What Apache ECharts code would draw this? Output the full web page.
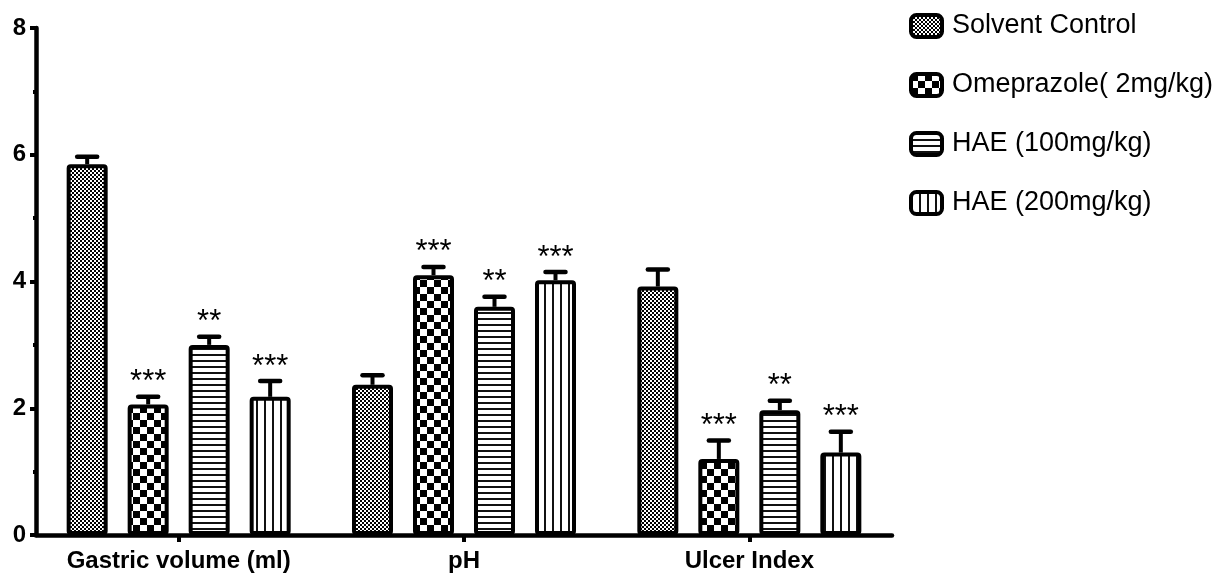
<!DOCTYPE html>
<html>
<head>
<meta charset="utf-8">
<script src="https://cdn.jsdelivr.net/npm/echarts@6/dist/echarts.min.js"></script>
<style>html,body{margin:0;padding:0;background:#fff;}#chart{width:1224px;height:576px;}</style>
</head>
<body>
<div id="chart"></div>
<script>
// ---- data ----
const categories = ['Gastric volume (ml)', 'pH', 'Ulcer Index'];
const seriesNames = ['Solvent Control', 'Omeprazole( 2mg/kg)', 'HAE (100mg/kg)', 'HAE (200mg/kg)'];
const solventMean = [5.85, 2.37, 3.92];
const solventErr  = [0.12, 0.15, 0.27];
const omeMean     = [2.06, 4.10, 1.20];
const omeErr      = [0.12, 0.13, 0.29];
const hae100Mean  = [3.00, 3.60, 1.97];
const hae100Err   = [0.13, 0.16, 0.15];
const hae200Mean  = [2.18, 4.02, 1.30];
const hae200Err   = [0.25, 0.13, 0.33];
const solventStars = ['', '', ''];
const omeStars     = ['***', '***', '***'];
const hae100Stars  = ['**', '**', '**'];
const hae200Stars  = ['***', '***', '***'];
const yTicks = [0, 2, 4, 6, 8];

const means = [solventMean, omeMean, hae100Mean, hae200Mean];
const errs = [solventErr, omeErr, hae100Err, hae200Err];
const stars = [solventStars, omeStars, hae100Stars, hae200Stars];

// ---- patterns ----
function makePattern(w, h, draw) {
  const c = document.createElement('canvas');
  c.width = w; c.height = h;
  const ctx = c.getContext('2d');
  ctx.fillStyle = '#fff'; ctx.fillRect(0, 0, w, h);
  ctx.fillStyle = '#000';
  draw(ctx, w, h);
  return { image: c, repeat: 'repeat' };
}
const patterns = [
  makePattern(4, 4, (ctx) => { ctx.fillRect(0, 0, 2, 2); ctx.fillRect(2, 2, 2, 2); }),
  makePattern(14, 14, (ctx) => { ctx.fillRect(0, 0, 7, 7); ctx.fillRect(7, 7, 7, 7); }),
  makePattern(6, 6, (ctx) => { ctx.fillStyle = '#111'; ctx.fillRect(0, 0, 6, 2); }),
  makePattern(8, 8, (ctx) => { ctx.fillStyle = '#111'; ctx.fillRect(0, 0, 2, 8); })
];

const FONT = '"Liberation Sans", Arial, sans-serif';
const BAR_W = 41;
const BAR_STEP = 61;

const series = [];
seriesNames.forEach((name, i) => {
  series.push({
    name: name,
    type: 'bar',
    barWidth: BAR_W,
    barGap: ((BAR_STEP - BAR_W) / BAR_W * 100) + '%',
    data: means[i],
    itemStyle: { color: patterns[i], borderColor: '#000', borderWidth: 4, borderRadius: 2 },
    emphasis: { disabled: true },
    z: 2
  });
});
seriesNames.forEach((name, i) => {
  const d = means[i].map((v, k) => [k, v, errs[i][k], stars[i][k]]);
  series.push({
    type: 'custom',
    name: name + ' err',
    z: 3,
    silent: true,
    data: d,
    renderItem: function (params, api) {
      const k = api.value(0);
      const v = api.value(1);
      const e = api.value(2);
      const s = d[params.dataIndex][3];
      const base = api.coord([k, v]);
      const top = api.coord([k, v + e]);
      const x = base[0] + (i - 1.5) * BAR_STEP;
      const children = [
        { type: 'line', shape: { x1: x, y1: base[1], x2: x, y2: top[1] },
          style: { stroke: '#000', lineWidth: 4 } },
        { type: 'line', shape: { x1: x - 10, y1: top[1], x2: x + 10, y2: top[1] },
          style: { stroke: '#000', lineWidth: 4.5, lineCap: 'round' } }
      ];
      if (s) {
        children.push({ type: 'text', x: x, y: top[1] - 14,
          style: { text: s, fill: '#000', font: '31px ' + FONT, align: 'center', verticalAlign: 'middle' } });
      }
      return { type: 'group', children: children };
    }
  });
});

const chart = echarts.init(document.getElementById('chart'), null, { renderer: 'canvas' });
chart.setOption({
  animation: false,
  backgroundColor: '#fff',
  grid: { left: 36, right: 332, top: 28, bottom: 41, containLabel: false },
  legend: {
    data: seriesNames,
    orient: 'vertical',
    left: 904,
    top: 6,
    itemWidth: 31,
    itemHeight: 22,
    itemGap: 29,
    selectedMode: false,
    itemStyle: { borderColor: '#000', borderWidth: 4 },
    textStyle: { fontFamily: FONT, fontSize: 27, color: '#000', lineHeight: 30, padding: [0, 0, 0, 5] }
  },
  xAxis: {
    type: 'category',
    data: categories,
    boundaryGap: true,
    axisLine: { lineStyle: { color: '#000', width: 4.5 } },
    axisTick: { show: true, alignWithLabel: true, length: 7, lineStyle: { color: '#000', width: 4 } },
    axisLabel: { interval: 0, fontFamily: FONT, fontWeight: 'bold', fontSize: 24, color: '#000', margin: 14 },
    splitLine: { show: false }
  },
  yAxis: {
    type: 'value',
    min: yTicks[0],
    max: yTicks[yTicks.length - 1],
    interval: 2,
    axisLine: { show: true, lineStyle: { color: '#000', width: 4.5 } },
    axisTick: { show: true, length: 6, lineStyle: { color: '#000', width: 4 } },
    minorTick: { show: true, splitNumber: 2, length: 3, lineStyle: { color: '#000', width: 4 } },
    axisLabel: { fontFamily: FONT, fontWeight: 'bold', fontSize: 24, color: '#000', margin: 10 },
    splitLine: { show: false }
  },
  series: series
});
</script>
</body>
</html>
